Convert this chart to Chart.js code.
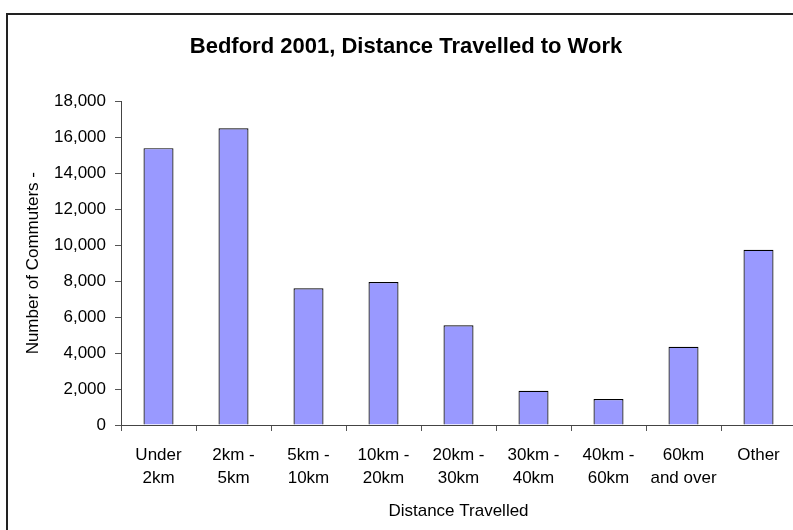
<!DOCTYPE html>
<html>
<head>
<meta charset="utf-8">
<title>Bedford 2001, Distance Travelled to Work</title>
<script src="https://cdn.jsdelivr.net/npm/chart.js@4/dist/chart.umd.min.js"></script>
<style>
    html, body { margin: 0; padding: 0; background: #fff; overflow: hidden; }
    #wrap { position: relative; width: 806px; height: 530px; }
</style>
</head>
<body>
<div id="wrap"><canvas id="distanceChart" width="806" height="530"></canvas></div>
<script>
// 数据
var categories = [
    ['Under', '2km'],
    ['2km -', '5km'],
    ['5km -', '10km'],
    ['10km -', '20km'],
    ['20km -', '30km'],
    ['30km -', '40km'],
    ['40km -', '60km'],
    ['60km', 'and over'],
    ['Other']
];
var commuters = [15400, 16500, 7600, 7950, 5550, 1900, 1450, 4350, 9750];
var yTicks = [0, 2000, 4000, 6000, 8000, 10000, 12000, 14000, 16000, 18000];

var fontFamily = '"Liberation Sans", Arial, sans-serif';

// 外框（上边和左边）
var frame = {
    id: 'frame',
    afterDraw: function(chart) {
        var ctx = chart.ctx;
        ctx.save();
        ctx.strokeStyle = '#222';
        ctx.lineWidth = 2;
        ctx.beginPath();
        ctx.moveTo(7, chart.height);
        ctx.lineTo(7, 14);
        ctx.lineTo(chart.width, 14);
        ctx.stroke();
        ctx.restore();
    }
};

new Chart(document.getElementById('distanceChart'), {
    type: 'bar',
    data: {
        labels: categories,
        datasets: [{
            label: 'Number of Commuters',
            data: commuters,
            backgroundColor: '#9999FF',
            borderColor: '#000',
            borderWidth: 1.2,
            barPercentage: 0.4,
            categoryPercentage: 1.0
        }]
    },
    options: {
        responsive: false,
        animation: false,
        layout: { padding: { left: 16, right: 10, top: 0, bottom: 0 } },
        plugins: {
            legend: { display: false },
            tooltip: { enabled: false },
            title: {
                display: true,
                text: 'Bedford 2001, Distance Travelled to Work',
                color: '#000',
                font: { family: fontFamily, size: 22, weight: 'bold', lineHeight: 1.2 },
                padding: { top: 34, bottom: 41 }
            }
        },
        scales: {
            x: {
                grid: { display: true, drawOnChartArea: false, drawTicks: true, tickLength: 6, color: '#555', offset: true },
                border: { display: true, color: '#444', width: 1 },
                ticks: {
                    color: '#000',
                    padding: 12,
                    maxRotation: 0,
                    autoSkip: false,
                    font: { family: fontFamily, size: 17, lineHeight: 1.4 }
                },
                title: {
                    display: true,
                    text: 'Distance Travelled',
                    color: '#000',
                    font: { family: fontFamily, size: 17, lineHeight: 1.2 },
                    padding: { top: 0, bottom: 8 }
                },
                afterFit: function(scale) { scale.height = 105; }
            },
            y: {
                min: 0,
                max: 18000,
                afterBuildTicks: function(scale) {
                    scale.ticks = yTicks.map(function(v) { return { value: v }; });
                },
                grid: { display: true, drawOnChartArea: false, drawTicks: true, tickLength: 6, color: '#555' },
                border: { display: true, color: '#444', width: 1 },
                ticks: {
                    color: '#000',
                    padding: 9,
                    font: { family: fontFamily, size: 17 },
                    callback: function(value) { return value.toLocaleString('en-US'); }
                },
                title: {
                    display: true,
                    text: 'Number of Commuters -',
                    color: '#000',
                    font: { family: fontFamily, size: 17, lineHeight: 1.2 },
                    padding: { top: 7, bottom: 0 }
                },
                afterFit: function(scale) { scale.width = 105; }
            }
        }
    },
    plugins: [frame]
});
</script>
</body>
</html>
